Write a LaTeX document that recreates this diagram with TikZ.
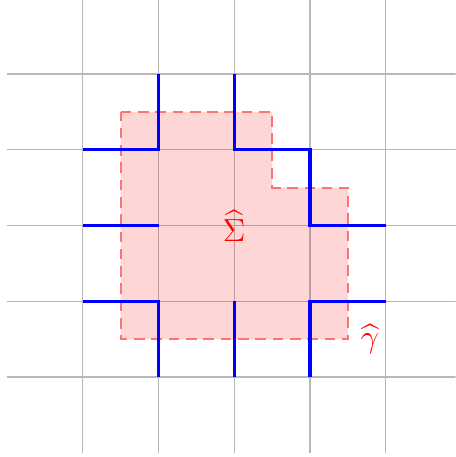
\documentclass[tikz,border=0pt]{standalone}
\usepackage{amsmath}
\begin{document}
\begin{tikzpicture}[
  gridline/.style={draw=black!28, line width=0.45pt},
  edgeline/.style={draw=blue, line width=1.2pt, line cap=butt, line join=miter},
  region/.style={fill=red, fill opacity=0.16, draw=red!55, draw opacity=1, line width=0.7pt, dash pattern=on 4pt off 2.5pt},
  lab/.style={text=red, font=\large}
]
\useasboundingbox (-1.092,-1.055) rectangle (4.921,4.976);
\clip (-1.092,-1.055) rectangle (4.921,4.976);
% grid
\foreach \i in {0,...,4} {
  \draw[gridline] (\i,-1) -- (\i,5);
  \draw[gridline] (-1,\i) -- (5,\i);
}
% region
\draw[region] (0.5,3.5) -- (2.5,3.5) -- (2.5,2.5) -- (3.5,2.5) -- (3.5,0.5) -- (0.5,0.5) -- cycle;
% blue edges
\draw[edgeline] (0,3) -- (1,3) -- (1,4);
\draw[edgeline] (2,4) -- (2,3) -- (3,3) -- (3,2) -- (4,2);
\draw[edgeline] (0,2) -- (1,2);
\draw[edgeline] (0,1) -- (1,1) -- (1,0);
\draw[edgeline] (2,1) -- (2,0);
\draw[edgeline] (4,1) -- (3,1) -- (3,0);
% labels
\node[lab] (sigma) at (2,2) {$\widehat{\Sigma}$};
\node[lab] (gamma) at (3.79,0.5) {$\widehat{\gamma}$};
\end{tikzpicture}
\end{document}
